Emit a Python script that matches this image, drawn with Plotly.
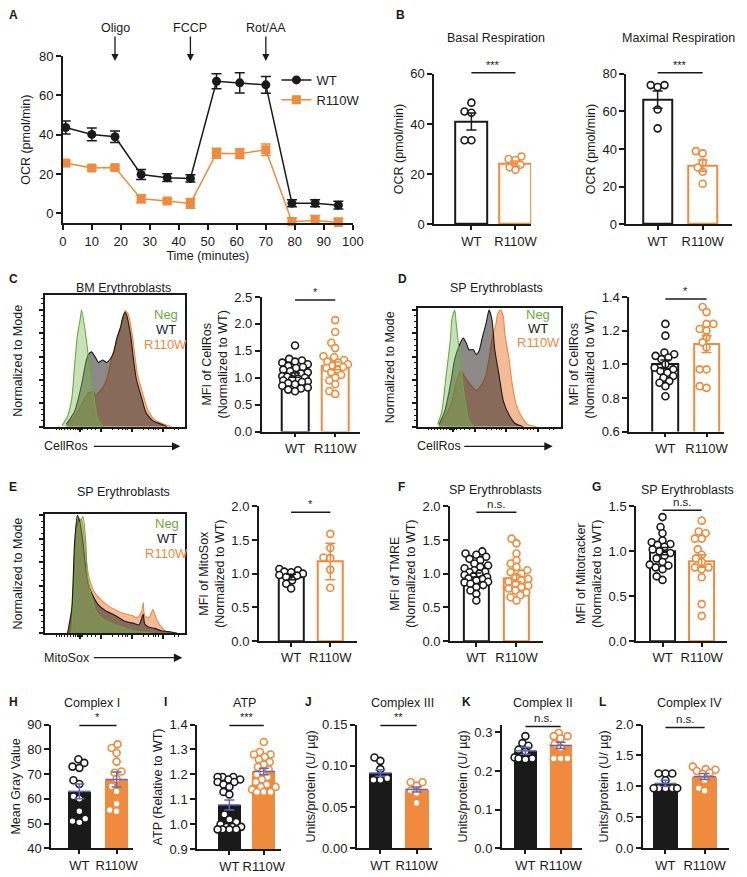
import math
import plotly.graph_objects as go

W, H = 747, 877
FONT = "Arial, Liberation Sans, sans-serif"
BLACK = "#1a1a1a"
ORANGE = "#F08A3C"
BLUE = "#6468b4"
GREEN = "#6aaa3e"

# ---------------- data ----------------
# A: oxygen consumption trace
TIME = [1, 10, 18, 27, 36, 44, 53, 61, 70, 79, 87, 95]
WT_OCR = [43.7, 40.2, 39.0, 19.8, 18.2, 17.8, 67.2, 66.4, 65.4, 5.2, 5.2, 4.2]
WT_OCR_ERR = [3.3, 3.3, 2.9, 2.5, 2.0, 1.8, 3.8, 5.2, 4.3, 1.8, 1.8, 2.0]
R_OCR = [25.6, 23.1, 23.3, 7.4, 6.3, 5.1, 30.6, 30.4, 32.4, -4.2, -3.6, -4.6]
R_OCR_ERR = [1.0, 1.0, 1.0, 2.0, 1.0, 2.5, 2.5, 2.5, 2.9, 2.0, 2.5, 2.2]
INJECTIONS = ["Oligo", "FCCP", "Rot/AA"]
INJ_IDX = [2, 5, 8]

GROUPS = ["WT", "R110W"]

# B
B1_WT = [48.5, 45, 44.5, 33.5, 33.5]
B1_R = [27.0, 26.0, 25.6, 23.7, 22.7, 21.7]
B1_MEAN = [41.0, 24.2]
B1_SEM = [3.4, 1.0]
B2_WT = [74, 73, 74, 61, 51]
B2_R = [38.9, 37.7, 32.8, 30.2, 27.9, 21.5]
B2_MEAN = [66.3, 31.2]
B2_SEM = [4.6, 3.0]

# C, D, E flow histograms (x: % of display width, y: % of mode)
C_NEG_X = [12, 16, 19, 21, 23, 25, 26, 29, 31, 33, 35, 37, 40, 42]
C_NEG_Y = [1, 9, 24, 52, 78, 92, 100, 78, 58, 41, 24, 9, 2, 0]
C_WT_X = [15, 21, 26, 29, 31, 33, 36, 38, 41, 44, 47, 49, 51, 54, 55, 57, 58, 61, 63, 65, 69, 72, 77, 83, 87]
C_WT_Y = [2, 13, 36, 55, 62, 64, 59, 55, 57, 55, 59, 64, 75, 86, 92, 98, 96, 78, 58, 41, 24, 12, 5, 2, 0]
C_R_X = [16, 21, 26, 29, 31, 34, 36, 38, 41, 44, 48, 50, 52, 55, 57, 59, 62, 64, 66, 70, 73, 78, 85, 90]
C_R_Y = [2, 8, 19, 26, 29, 30, 27, 29, 33, 41, 61, 69, 78, 89, 99, 97, 80, 61, 44, 27, 15, 6, 2, 0]

D_NEG_X = [14, 17, 20, 23, 24, 26, 27, 29, 31, 33, 35, 37, 40]
D_NEG_Y = [2, 13, 44, 75, 92, 100, 89, 66, 44, 24, 10, 3, 0]
D_WT_X = [15, 19, 23, 26, 30, 32, 34, 36, 39, 41, 43, 45, 48, 50, 52, 54, 57, 60, 64, 68, 74]
D_WT_Y = [2, 13, 36, 58, 72, 76, 72, 66, 66, 62, 65, 75, 89, 100, 92, 66, 44, 22, 10, 3, 0]
D_R_X = [15, 19, 24, 27, 30, 31, 34, 37, 41, 43, 47, 50, 52, 55, 56, 58, 60, 61, 64, 66, 69, 73, 77, 83]
D_R_Y = [2, 8, 22, 38, 48, 47, 41, 36, 31, 33, 41, 58, 75, 89, 97, 100, 94, 80, 58, 38, 19, 8, 2, 0]

E_NEG_X = [19, 21, 23, 26, 27, 29, 30, 33, 36, 41, 48, 55, 62, 69, 76]
E_NEG_Y = [0, 41, 88, 97, 99, 77, 49, 32, 19, 12, 8, 5, 2, 1, 0]
E_WT_X = [16, 19, 21, 23, 25, 27, 29, 31, 34, 38, 43, 50, 57, 64, 67, 70, 71, 74, 78, 83, 90, 94]
E_WT_Y = [0, 21, 77, 100, 93, 77, 55, 41, 32, 24, 19, 15, 10, 8, 7, 16, 8, 5, 4, 2, 1, 0]
E_R_X = [17, 20, 22, 24, 26, 28, 31, 35, 41, 48, 55, 62, 66, 69, 70, 71, 74, 77, 79, 83, 87, 92]
E_R_Y = [0, 30, 82, 97, 96, 79, 49, 35, 27, 21, 17, 15, 13, 19, 26, 15, 13, 20, 13, 5, 1, 0]

C_WT = [1.6, 1.35, 1.32, 1.3, 1.28, 1.25, 1.22, 1.2, 1.18, 1.15, 1.12, 1.1, 1.08, 1.05, 1.03,
        1.02, 1.0, 0.98, 0.97, 0.95, 0.93, 0.92, 0.9, 0.88, 0.85, 0.82, 0.8, 0.78, 0.75]
C_R = [2.07, 1.85, 1.65, 1.55, 1.4, 1.38, 1.33, 1.3, 1.28, 1.25, 1.22, 1.2, 1.18, 1.15, 1.1,
       1.05, 1.0, 0.95, 0.88, 0.75, 0.7]
C_MEAN = [1.05, 1.22]
C_SEM = [0.04, 0.07]

D_WT = [1.24, 1.17, 1.07, 1.06, 1.05, 1.04, 1.03, 1.0, 0.98, 0.97, 0.96, 0.95, 0.93, 0.92,
        0.9, 0.89, 0.87, 0.81]
D_R = [1.34, 1.31, 1.24, 1.24, 1.21, 1.2, 1.16, 1.13, 1.1, 0.97, 0.97, 0.87, 0.86]
D_MEAN = [1.0, 1.12]
D_SEM = [0.025, 0.05]

E_WT = [1.07, 1.05, 1.03, 1.02, 1.0, 0.98, 0.97, 0.95, 0.9, 0.85, 0.78]
E_R = [1.59, 1.38, 1.24, 1.23, 1.06, 0.79]
E_MEAN = [0.95, 1.18]
E_SEM = [0.04, 0.27]

F_WT = [1.33, 1.3, 1.28, 1.25, 1.22, 1.2, 1.15, 1.12, 1.1, 1.08, 1.05, 1.03, 1.02, 1.0,
        0.98, 0.96, 0.95, 0.93, 0.92, 0.9, 0.88, 0.87, 0.85, 0.83, 0.8, 0.75, 0.7, 0.6]
F_R = [1.52, 1.45, 1.3, 1.2, 1.15, 1.1, 1.05, 1.02, 1.0, 0.95, 0.92, 0.9, 0.88, 0.85,
       0.82, 0.8, 0.78, 0.75, 0.72, 0.68, 0.65, 0.6]
F_MEAN = [0.98, 0.93]
F_SEM = [0.03, 0.05]

G_WT = [1.38, 1.27, 1.2, 1.12, 1.1, 1.08, 1.07, 1.05, 1.02, 1.0, 0.98, 0.95, 0.92, 0.88,
        0.85, 0.84, 0.82, 0.8, 0.72, 0.68]
G_R = [1.34, 1.22, 1.2, 1.14, 1.14, 1.02, 0.96, 0.92, 0.88, 0.82, 0.82, 0.8, 0.71, 0.41, 0.28]
G_MEAN = [1.0, 0.89]
G_SEM = [0.04, 0.07]

H_WT = [76, 74.5, 73, 72.5, 67.5, 66, 61, 60, 55, 52, 51, 50.5]
H_R = [82, 80.5, 78.5, 75, 71, 70.5, 68, 65, 63, 58, 55.5, 55]
H_MEAN = [63.0, 67.8]
H_SEM = [3.0, 3.0]

I_WT = [1.19, 1.19, 1.19, 1.18, 1.18, 1.17, 1.17, 1.16, 1.15, 1.13, 1.12, 1.04, 1.02, 1.01,
        1.0, 0.99, 0.99, 0.99, 0.98, 0.98, 0.98, 0.98]
I_R = [1.33, 1.29, 1.28, 1.28, 1.27, 1.26, 1.25, 1.24, 1.23, 1.22, 1.21, 1.2, 1.19, 1.18,
       1.17, 1.16, 1.15, 1.15, 1.14, 1.13, 1.13, 1.13]
I_MEAN = [1.078, 1.212]
I_SEM = [0.02, 0.013]

J_WT = [0.11, 0.106, 0.096, 0.085, 0.083, 0.083]
J_R = [0.08, 0.08, 0.076, 0.07, 0.067, 0.055]
J_MEAN = [0.0913, 0.0714]
J_SEM = [0.004, 0.003]

K_WT = [0.29, 0.272, 0.265, 0.255, 0.25, 0.235, 0.232, 0.232, 0.23]
K_R = [0.298, 0.29, 0.29, 0.284, 0.27, 0.26, 0.232, 0.232, 0.232]
K_MEAN = [0.252, 0.266]
K_SEM = [0.009, 0.008]

L_WT = [1.21, 1.21, 1.21, 1.1, 0.97, 0.97, 0.97, 0.97, 0.97]
L_R = [1.32, 1.28, 1.27, 1.25, 1.22, 1.2, 1.1, 0.97, 0.93]
L_MEAN = [1.048, 1.16]
L_SEM = [0.05, 0.05]

# ---------------- helpers ----------------
fig = go.Figure()


def sid(n):
    return "" if n == 1 else str(n)


def make_axes(n, box, xr, yr, xkw=None, ykw=None):
    x0, x1, ytop, ybot = box
    s = sid(n)
    base = dict(showline=True, linecolor=BLACK, linewidth=1.5, ticks="outside",
                ticklen=5, tickwidth=1.5, tickcolor=BLACK, showgrid=False,
                zeroline=False, tickfont=dict(size=13, color=BLACK, family=FONT))
    xa = dict(base, domain=[x0 / W, x1 / W], range=list(xr), anchor="y" + s)
    ya = dict(base, domain=[1 - ybot / H, 1 - ytop / H], range=list(yr), anchor="x" + s)
    xa.update(xkw or {})
    ya.update(ykw or {})
    fig.update_layout(**{"xaxis" + s: xa, "yaxis" + s: ya})


def text(x, y, s, size=12.5, bold=False, color=BLACK, xanchor="center"):
    fig.add_annotation(x=x / W, y=1 - y / H, xref="paper", yref="paper", text=s,
                       showarrow=False, xanchor=xanchor, yanchor="middle",
                       font=dict(size=size, color=color, family=FONT,
                                 weight="bold" if bold else "normal"))


def swarm(vals, ppu, cpx, cap, diam=6.5):
    # simple beeswarm: offset points sideways so circles do not pile up
    order = sorted(range(len(vals)), key=lambda i: vals[i])
    cands = sorted(range(-int(cap), int(cap) + 1), key=lambda c: (abs(c), c))
    placed, offs = [], [0.0] * len(vals)
    for i in order:
        yy = vals[i] * ppu
        best, best_d = 0, -1.0
        for c in cands:
            d = min((math.hypot(c - a, yy - b) for a, b in placed), default=1e9)
            if d >= diam:
                best = c
                break
            if d > best_d:
                best, best_d = c, d
        placed.append((best, yy))
        offs[i] = best / cpx
    return offs


# ---------------- A ----------------
make_axes(1, (60, 356, 50, 220), (0, 100), (-5, 80),
          xkw=dict(dtick=10, tick0=0,
                   title=dict(text="Time (minutes)", standoff=4, font=dict(size=12.5, family=FONT))),
          ykw=dict(tickvals=[0, 20, 40, 60, 80],
                   title=dict(text="OCR (pmol/min)", standoff=6, font=dict(size=12.5, family=FONT))))
for name, ys, es, col, sym in [("WT", WT_OCR, WT_OCR_ERR, BLACK, "circle"),
                               ("R110W", R_OCR, R_OCR_ERR, ORANGE, "square")]:
    fig.add_trace(go.Scatter(
        x=TIME, y=ys, name=name, mode="lines+markers", xaxis="x", yaxis="y",
        line=dict(color=col, width=1.5), marker=dict(symbol=sym, size=9, color=col),
        error_y=dict(type="data", array=es, color=col, thickness=1.5, width=5),
        cliponaxis=False, showlegend=True))
for lab, idx in zip(INJECTIONS, INJ_IDX):
    fig.add_annotation(x=TIME[idx], y=1 - 55 / H, xref="x", yref="paper", text=lab,
                       showarrow=True, ax=0, ay=-33, arrowhead=2, arrowsize=1.1,
                       arrowwidth=1.3, arrowcolor=BLACK,
                       font=dict(size=12.5, color=BLACK, family=FONT))
text(3, 8, "A", size=12, bold=True, xanchor="left")

# ---------------- bar panels ----------------
BAR_PANELS = [
    dict(n=2, box=(439, 538, 68, 221), xr=(-0.844, 1.356), yr=(0, 60), tv=[0, 20, 40, 60], fmt="",
         wt=B1_WT, r=B1_R, mean=B1_MEAN, sem=B1_SEM, bpx=33, filled=False,
         ytitle="OCR (pmol/min)", sig="***", line=67),
    dict(n=3, box=(635, 743, 68, 221), xr=(-0.696, 1.652), yr=(0, 80), tv=[0, 20, 40, 60, 80], fmt="",
         wt=B2_WT, r=B2_R, mean=B2_MEAN, sem=B2_SEM, bpx=29, filled=False,
         ytitle="OCR (pmol/min)", sig="***", line=67),
    dict(n=5, box=(263, 363, 295, 432), xr=(-0.83, 1.61), yr=(0, 2.5), tv=[0, 0.5, 1, 1.5, 2, 2.5], fmt=".1f",
         wt=C_WT, r=C_R, mean=C_MEAN, sem=C_SEM, bpx=27, filled=False,
         ytitle="MFI of CellRos<br>(Normalized to WT)", sig="*", line=298),
    dict(n=7, box=(638, 735, 295, 432), xr=(-0.88, 1.43), yr=(0.6, 1.4), tv=[0.6, 0.8, 1.0, 1.2, 1.4], fmt=".1f",
         wt=D_WT, r=D_R, mean=D_MEAN, sem=D_SEM, bpx=26, filled=False,
         ytitle="MFI of CellRos<br>(Normalized to WT)", sig="*", line=297),
    dict(n=9, box=(260, 360, 508, 645), xr=(-0.825, 1.675), yr=(0, 2), tv=[0, 0.5, 1, 1.5, 2], fmt=".1f",
         wt=E_WT, r=E_R, mean=E_MEAN, sem=E_SEM, bpx=25, filled=False,
         ytitle="MFI of MitoSox<br>(Normalized to WT)", sig="*", line=514),
    dict(n=10, box=(455, 550, 508, 645), xr=(-0.66, 1.66), yr=(0, 2), tv=[0, 0.5, 1, 1.5, 2], fmt=".1f",
         wt=F_WT, r=F_R, mean=F_MEAN, sem=F_SEM, bpx=25, filled=False,
         ytitle="MFI of TMRE<br>(Normalized to WT)", sig="n.s.", line=514),
    dict(n=11, box=(645, 738, 508, 645), xr=(-0.675, 1.65), yr=(0, 1.5), tv=[0, 0.5, 1, 1.5], fmt=".1f",
         wt=G_WT, r=G_R, mean=G_MEAN, sem=G_SEM, bpx=26, filled=False,
         ytitle="MFI of Mitotracker<br>(Normalized to WT)", sig="n.s.", line=512),
    dict(n=12, box=(48, 132, 730, 856), xr=(-0.76, 1.45), yr=(40, 90), tv=[40, 50, 60, 70, 80, 90], fmt="",
         wt=H_WT, r=H_R, mean=H_MEAN, sem=H_SEM, bpx=24, filled=True,
         ytitle="Mean Gray Value", sig="*", line=731),
    dict(n=13, box=(197, 283, 730, 857), xr=(-0.94, 1.51), yr=(0.9, 1.4), tv=[0.9, 1.0, 1.1, 1.2, 1.3, 1.4], fmt=".1f",
         wt=I_WT, r=I_R, mean=I_MEAN, sem=I_SEM, bpx=24, filled=True,
         ytitle="ATP (Relative to WT)", sig="***", line=731),
    dict(n=14, box=(360, 437, 730, 856), xr=(-0.65, 1.43), yr=(0, 0.15), tv=[0, 0.05, 0.1, 0.15], fmt=".2f",
         wt=J_WT, r=J_R, mean=J_MEAN, sem=J_SEM, bpx=24, filled=True,
         ytitle="Units/protein (U/ µg)", sig="**", line=731),
    dict(n=15, box=(508, 590, 730, 856), xr=(-0.67, 1.61), yr=(0, 0.32), tv=[0, 0.1, 0.2, 0.3], fmt=".1f",
         wt=K_WT, r=K_R, mean=K_MEAN, sem=K_SEM, bpx=23, filled=True,
         ytitle="Units/protein (U/ µg)", sig="n.s.", line=732),
    dict(n=16, box=(652, 740, 730, 856), xr=(-0.575, 1.625), yr=(0, 2), tv=[0, 0.5, 1, 1.5, 2], fmt=".1f",
         wt=L_WT, r=L_R, mean=L_MEAN, sem=L_SEM, bpx=25, filled=True,
         ytitle="Units/protein (U/ µg)", sig="n.s.", line=733),
]

for p in BAR_PANELS:
    n = p["n"]
    s = sid(n)
    x0, x1, ytop, ybot = p["box"]
    xr, yr = p["xr"], p["yr"]
    cpx = (x1 - x0) / (xr[1] - xr[0])
    ppu = (ybot - ytop) / (yr[1] - yr[0])
    bw = p["bpx"] / cpx
    make_axes(n, p["box"], xr, yr,
              xkw=dict(tickvals=[0, 1], ticktext=GROUPS, ticklen=4),
              ykw=dict(tickvals=p["tv"], tickformat=p["fmt"],
                       title=dict(text=p["ytitle"], standoff=4, font=dict(size=12.5, family=FONT))))
    cols = [BLACK, ORANGE]
    fig.add_trace(go.Bar(
        x=[0, 1], y=p["mean"], width=bw, xaxis="x" + s, yaxis="y" + s, showlegend=False,
        marker=dict(color=cols if p["filled"] else "white",
                    line=dict(color=cols, width=0 if p["filled"] else 2))))
    for g, vals in enumerate([p["wt"], p["r"]]):
        offs = swarm(vals, ppu, cpx, cap=p["bpx"] / 2)
        fig.add_trace(go.Scatter(
            x=[g + o for o in offs], y=vals, mode="markers", xaxis="x" + s, yaxis="y" + s,
            showlegend=False, cliponaxis=False,
            marker=dict(symbol="circle", size=7, color="white",
                        line=dict(color=cols[g], width=1.6))))
    for g in range(2):
        ecol = BLUE if p["filled"] else cols[g]
        fig.add_trace(go.Scatter(
            x=[g], y=[p["mean"][g]], mode="markers", xaxis="x" + s, yaxis="y" + s,
            showlegend=False, cliponaxis=False,
            marker=dict(symbol="line-ew", size=16 if p["filled"] else 1,
                        line=dict(color=ecol, width=1.5 if p["filled"] else 0)),
            error_y=dict(type="data", array=[p["sem"][g]], color=ecol, thickness=1.5, width=5)))
    # significance bracket
    frac = (ybot - p["line"]) / (ybot - ytop)
    fig.add_shape(type="line", xref="x" + s, yref="y" + s + " domain", x0=0, x1=1,
                  y0=frac, y1=frac, line=dict(color=BLACK, width=1.5))
    fig.add_annotation(x=0.5, y=frac, xref="x" + s, yref="y" + s + " domain",
                       text=p["sig"], showarrow=False, yanchor="bottom",
                       font=dict(size=11.5 if p["sig"] == "n.s." else 11, color=BLACK, family=FONT))

# ---------------- histograms ----------------
HIST_PANELS = [
    dict(n=4, box=(42, 185, 293, 427), ytop=112.6, curves=[(C_R_X, C_R_Y), (C_WT_X, C_WT_Y), (C_NEG_X, C_NEG_Y)],
         leg=(165, [313, 328, 343]), lab="CellRos", lab_y=447, arrow=(92, 180)),
    dict(n=6, box=(422, 568, 306, 427), ytop=102, curves=[(D_R_X, D_R_Y), (D_WT_X, D_WT_Y), (D_NEG_X, D_NEG_Y)],
         leg=(545, [313, 327, 341]), lab="CellRos", lab_y=447, arrow=(470, 560)),
    dict(n=8, box=(42, 185, 516, 637), ytop=101, curves=[(E_R_X, E_R_Y), (E_WT_X, E_WT_Y), (E_NEG_X, E_NEG_Y)],
         leg=(166, [525, 541, 556]), lab="MitoSox", lab_y=662, arrow=(92, 182)),
]
HIST_STYLE = [(ORANGE, "rgba(232,120,50,0.50)"),
              (BLACK, "rgba(45,40,38,0.55)"),
              (GREEN, "rgba(120,185,80,0.42)")]
LEG_TEXT = [("Neg", GREEN), ("WT", BLACK), ("R110W", ORANGE)]

for hp in HIST_PANELS:
    n = hp["n"]
    s = sid(n)
    x0, x1, ytop, ybot = hp["box"]
    make_axes(n, hp["box"], (0, 100), (0, hp["ytop"]),
              xkw=dict(mirror=True, tickvals=[25, 40, 62, 84], showticklabels=False, ticklen=4,
                       minor=dict(tickvals=[8, 10, 12, 14, 16, 18, 20, 22, 23, 24, 26, 27, 30, 33, 36,
                                            48, 52, 55, 57, 59, 70, 74, 77, 79, 81, 92, 95],
                                  ticklen=2, tickwidth=1, tickcolor=BLACK, ticks="outside")),
              ykw=dict(mirror=True, tickvals=[0, 20, 40, 60, 80, 100], showticklabels=False, ticklen=4,
                       minor=dict(dtick=5, ticklen=2, tickwidth=1, tickcolor=BLACK, ticks="outside"),
                       title=dict(text="Normalized to Mode", standoff=14, font=dict(size=12.5, family=FONT))))
    for (xs, ys), (lc, fc) in zip(hp["curves"], HIST_STYLE):
        fig.add_trace(go.Scatter(x=xs, y=ys, mode="lines", fill="tozeroy", fillcolor=fc,
                                 line=dict(color=lc, width=1.1, shape="spline", smoothing=0.6),
                                 xaxis="x" + s, yaxis="y" + s, showlegend=False))
    lx, lys = hp["leg"]
    for (t, c), ly in zip(LEG_TEXT, lys):
        text(lx, ly, t, size=13, color=c)
    text(hp["box"][0] - 3, hp["lab_y"], hp["lab"], size=12.5, xanchor="left")
    a0, a1 = hp["arrow"]
    fig.add_annotation(x=a1 / W, y=1 - hp["lab_y"] / H, xref="paper", yref="paper", text="",
                       showarrow=True, ax=a0 - a1, ay=0, arrowhead=2, arrowsize=1.3,
                       arrowwidth=1.3, arrowcolor=BLACK)

# ---------------- titles and panel letters ----------------
TITLES = [("Basal Respiration", 502, 32), ("Maximal Respiration", 688, 32),
          ("BM Erythroblasts", 122, 286), ("SP Erythroblasts", 503, 286),
          ("SP Erythroblasts", 122, 493), ("SP Erythroblasts", 502, 491),
          ("SP Erythroblasts", 698, 491),
          ("Complex I", 90, 708), ("ATP", 245, 708), ("Complex III", 407, 708),
          ("Complex II", 550, 708), ("Complex IV", 700, 708)]
for t, x, y in TITLES:
    text(x, y, t, size=12.5)

LETTERS = [("B", 398, 8), ("C", 3, 277), ("D", 400, 277), ("E", 3, 488), ("F", 400, 488),
           ("G", 598, 488), ("H", 3, 707), ("I", 161, 707), ("J", 305, 707),
           ("K", 465, 707), ("L", 605, 707)]
for t, x, y in LETTERS:
    text(x, y, t, size=12, bold=True, xanchor="left")

fig.update_layout(
    width=W, height=H, margin=dict(l=0, r=0, t=0, b=0),
    paper_bgcolor="white", plot_bgcolor="white",
    font=dict(family=FONT, color=BLACK, size=12.5),
    bargap=0,
    legend=dict(x=278 / W, y=1 - 59 / H, xanchor="left", yanchor="top",
                font=dict(size=13, family=FONT, color=BLACK), bgcolor="rgba(0,0,0,0)",
                tracegroupgap=0, itemwidth=30),
)

fig.write_html("out.html", config={"displayModeBar": False},
               post_script="document.body.style.margin='0';")
